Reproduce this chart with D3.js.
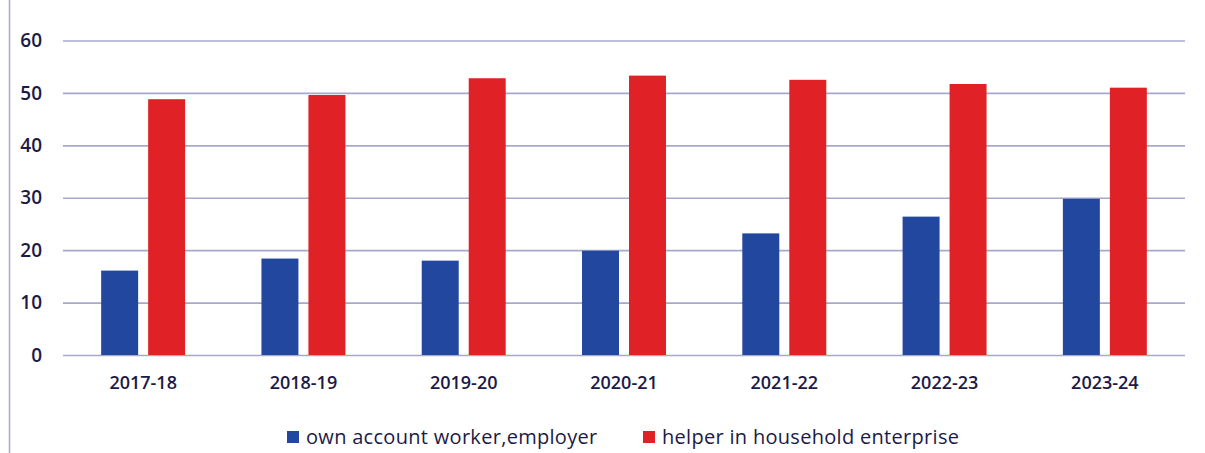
<!DOCTYPE html>
<html>
<head>
<meta charset="utf-8">
<script src="https://cdn.jsdelivr.net/npm/d3@7"></script>
<style>
  html, body { margin: 0; padding: 0; background: #ffffff; }
  svg { display: block; }
</style>
</head>
<body>
<svg id="chart" width="1205" height="453"></svg>
<script>
// Shares by year for the two categories of self-employment
const years = ["2017-18", "2018-19", "2019-20", "2020-21", "2021-22", "2022-23", "2023-24"];
const seriesNames = ["own account worker,employer", "helper in household enterprise"];
const ownAccount = [16.1, 18.4, 18.0, 19.9, 23.2, 26.4, 29.8];
const helper = [48.8, 49.6, 52.8, 53.3, 52.5, 51.7, 51.0];
const yTicks = [0, 10, 20, 30, 40, 50, 60];
const colors = ["#22479f", "#e02226"];

const values = [ownAccount, helper];
const rows = years.map((y, i) => ({ year: y, vals: values.map(v => v[i]) }));

const svg = d3.select("#chart");
const textColor = "#1c1a46";
const gridColor = "#a8a8cf";

const x0 = d3.scaleBand().domain(years).range([63, 1185]).padding(0);
const x1 = d3.scaleBand().domain(d3.range(seriesNames.length))
  .range([0, x0.bandwidth()]).paddingInner(0.213).paddingOuter(0.812);
const y = d3.scaleLinear().domain([0, 60]).range([355, 40.5]);

// frame line on the left edge
svg.append("line")
  .attr("x1", 9.5).attr("x2", 9.5).attr("y1", 0).attr("y2", 453)
  .attr("stroke", gridColor).attr("stroke-width", 1.5);

// horizontal gridlines and y tick labels
const yAxis = d3.axisLeft(y).tickValues(yTicks).tickSize(-(1185 - 63)).tickPadding(21);
const gy = svg.append("g").attr("transform", "translate(63,0)").call(yAxis);
gy.select(".domain").remove();
gy.selectAll(".tick line").attr("stroke", gridColor).attr("stroke-width", 1.6);
gy.selectAll(".tick text")
  .attr("fill", textColor)
  .style("font-family", "'Open Sans', sans-serif")
  .style("font-weight", 600)
  .style("font-size", "19px");

// bars
const groups = svg.append("g").selectAll("g").data(rows).join("g")
  .attr("transform", d => `translate(${x0(d.year)},0)`);
groups.selectAll("rect").data(d => d.vals.map((v, k) => ({ k, v }))).join("rect")
  .attr("x", d => x1(d.k))
  .attr("width", x1.bandwidth())
  .attr("y", d => y(d.v))
  .attr("height", d => y(0) - y(d.v))
  .attr("fill", d => colors[d.k]);

// x axis labels
const xAxis = d3.axisBottom(x0).tickSize(0).tickPadding(21);
const gx = svg.append("g").attr("transform", "translate(0,355)").call(xAxis);
gx.select(".domain").remove();
gx.selectAll(".tick text")
  .attr("fill", textColor)
  .style("font-family", "'Open Sans', sans-serif")
  .style("font-weight", 600)
  .style("font-size", "18px");

// legend
const legendPos = [287, 643];
const legend = svg.append("g").selectAll("g").data(seriesNames).join("g")
  .attr("transform", (d, i) => `translate(${legendPos[i]},437)`);
legend.append("rect")
  .attr("x", 0).attr("y", -6).attr("width", 12).attr("height", 12)
  .attr("fill", (d, i) => colors[i]);
legend.append("text")
  .attr("x", 19).attr("dy", "0.35em")
  .attr("fill", textColor)
  .style("font-family", "'Open Sans', sans-serif")
  .style("font-size", "20px")
  .style("letter-spacing", "0.3px")
  .text(d => d);
</script>
</body>
</html>
